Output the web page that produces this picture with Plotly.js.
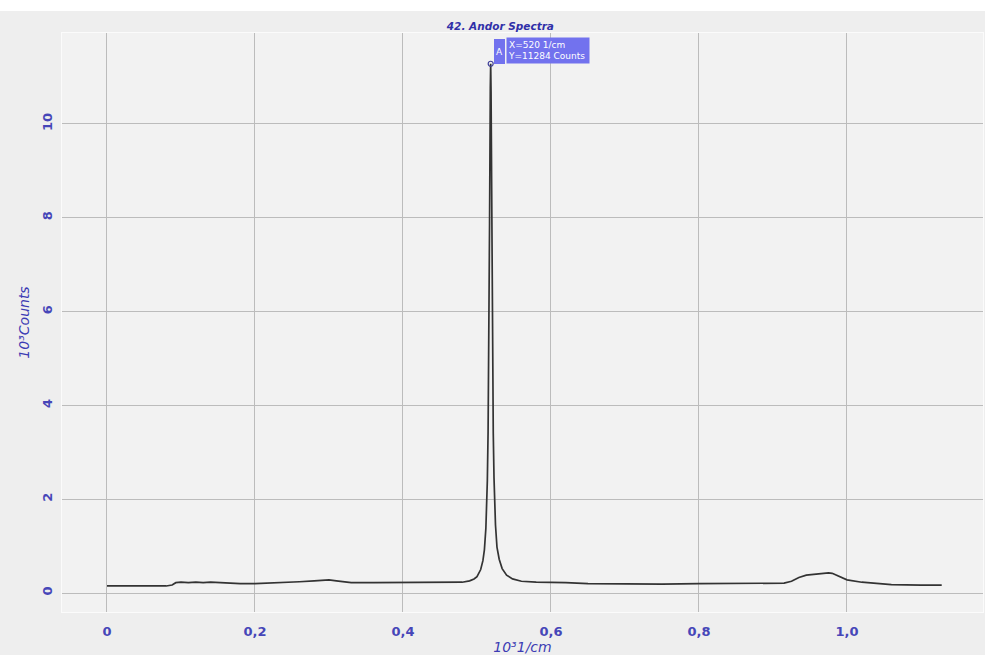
<!DOCTYPE html>
<html>
<head>
<meta charset="utf-8">
<script src="https://cdn.plot.ly/plotly-3.0.1.min.js"></script>
<style>
  html, body { margin: 0; padding: 0; background: #ffffff; }
  #chart { width: 985px; height: 644px; margin-top: 11px; }
</style>
</head>
<body>
<div id="chart"></div>
<script>
// Raman shift in 10^3 1/cm
const shift = [
  0.000, 0.020, 0.050, 0.080, 0.088, 0.093, 0.100, 0.110, 0.120, 0.130, 0.140, 0.150, 0.160,
  0.180, 0.200, 0.220, 0.240, 0.260, 0.280, 0.300, 0.310, 0.330, 0.360, 0.400, 0.440, 0.460,
  0.470, 0.480, 0.490, 0.496, 0.500, 0.505, 0.508, 0.510, 0.512, 0.514, 0.515, 0.516, 0.517,
  0.518, 0.5185, 0.519, 0.520, 0.521, 0.522, 0.523, 0.525, 0.527, 0.530, 0.534, 0.540, 0.548,
  0.560, 0.580, 0.600, 0.620, 0.650, 0.700, 0.750, 0.800, 0.850, 0.900, 0.915, 0.925, 0.935,
  0.945, 0.960, 0.975, 0.980, 0.990, 1.000, 1.020, 1.040, 1.060, 1.100, 1.128
];
// Intensity in 10^3 counts
const counts = [
  0.15, 0.15, 0.15, 0.15, 0.17, 0.22, 0.23, 0.22, 0.23, 0.22, 0.23, 0.22, 0.21,
  0.20, 0.20, 0.21, 0.23, 0.24, 0.26, 0.28, 0.26, 0.22, 0.22, 0.22, 0.22, 0.22,
  0.22, 0.23, 0.26, 0.30, 0.35, 0.50, 0.69, 0.92, 1.38, 2.40, 3.44, 5.20, 7.90,
  10.76, 11.284, 10.70, 7.80, 5.10, 3.40, 2.45, 1.45, 0.98, 0.72, 0.52, 0.38, 0.30,
  0.25, 0.23, 0.23, 0.22, 0.20, 0.19, 0.19, 0.20, 0.21, 0.21, 0.21, 0.25, 0.33,
  0.38, 0.40, 0.43, 0.42, 0.35, 0.28, 0.23, 0.20, 0.18, 0.17, 0.17
];
const peakX = [0.5185];
const peakY = [11.284];
const xTickVals = [0, 0.2, 0.4, 0.6, 0.8, 1.0];
const xTickText = ['0', '0,2', '0,4', '0,6', '0,8', '1,0'];
const yTickVals = [0, 2, 4, 6, 8, 10];
const yTickText = ['0', '2', '4', '6', '8', '10'];
const cursorLabel = 'A';
const cursorText = 'X=520 1/cm<br>Y=11284 Counts';

const blue = '#3c3cb4';
const traces = [
  {
    x: shift, y: counts, type: 'scatter', mode: 'lines',
    line: { color: '#333333', width: 1.7 }, hoverinfo: 'skip'
  },
  {
    x: peakX, y: peakY, type: 'scatter', mode: 'markers',
    marker: { symbol: 'circle-open', size: 5, color: '#40409a', line: { width: 1.2 } }
  }
];

const layout = {
  width: 985, height: 644,
  margin: { l: 62, r: 2, t: 22, b: 43 },
  paper_bgcolor: '#eeeeee',
  plot_bgcolor: '#f2f2f2',
  showlegend: false,
  font: { family: 'DejaVu Sans, Verdana, sans-serif', color: blue },
  title: {
    text: '<b><i>42. Andor Spectra</i></b>',
    font: { family: 'DejaVu Sans, sans-serif', size: 10.5, color: '#3030a8' },
    x: 0.508, xref: 'container', xanchor: 'center',
    y: 1 - 15 / 644, yref: 'container', yanchor: 'middle'
  },
  xaxis: {
    range: [-0.0608, 1.1838],
    tickvals: xTickVals, ticktext: xTickText,
    tickfont: { family: 'DejaVu Sans, sans-serif', size: 13, color: '#4646b8', weight: 'bold' },
    showgrid: true, gridcolor: '#bcbcbc', gridwidth: 1,
    zeroline: false,
    showline: true, linecolor: '#fbfbfb', linewidth: 1, mirror: true,
    ticks: '', ticklabelstandoff: 7,
    title: {
      text: '<i>10³1/cm</i>',
      font: { family: 'DejaVu Sans, sans-serif', size: 14, color: '#3c3cb4' },
      standoff: 2
    }
  },
  yaxis: {
    range: [-0.405, 11.94],
    tickvals: yTickVals, ticktext: yTickText,
    tickangle: -90,
    tickfont: { family: 'DejaVu Sans, sans-serif', size: 13, color: '#4646b8', weight: 'bold' },
    showgrid: true, gridcolor: '#bcbcbc', gridwidth: 1,
    zeroline: false,
    showline: true, linecolor: '#fbfbfb', linewidth: 1, mirror: true,
    ticks: '', ticklabelstandoff: 4,
    title: {
      text: '<i>10³Counts</i>',
      font: { family: 'DejaVu Sans, sans-serif', size: 14, color: '#3c3cb4' },
      standoff: 6
    }
  },
  annotations: [
    {
      x: peakX[0], y: peakY[0], xref: 'x', yref: 'y',
      xanchor: 'left', yanchor: 'bottom', xshift: 3, yshift: 0,
      showarrow: false, text: cursorLabel,
      font: { family: 'DejaVu Sans, sans-serif', size: 9, color: '#ffffff' },
      bgcolor: '#7272ee', width: 9, height: 23, borderpad: 1,
      bordercolor: '#7272ee', borderwidth: 0
    },
    {
      x: peakX[0], y: peakY[0], xref: 'x', yref: 'y',
      xanchor: 'left', yanchor: 'bottom', xshift: 15, yshift: 0,
      showarrow: false, text: cursorText, align: 'left',
      font: { family: 'DejaVu Sans, sans-serif', size: 9, color: '#ffffff' },
      bgcolor: '#7272ee', width: 80, height: 23, borderpad: 1
    }
  ]
};

Plotly.newPlot('chart', traces, layout, { displayModeBar: false, staticPlot: true });
</script>
</body>
</html>
